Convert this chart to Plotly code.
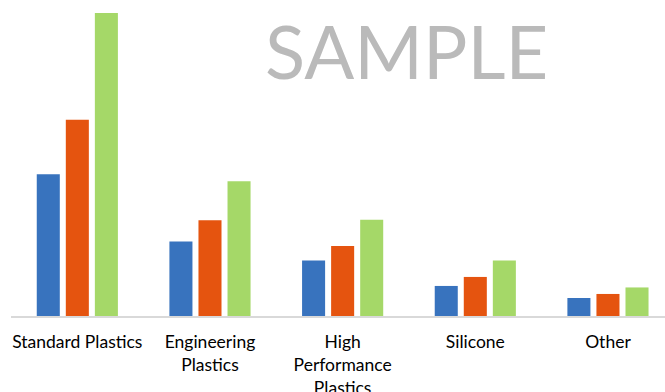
import plotly.graph_objects as go

categories = ["Standard Plastics", "Engineering<br>Plastics", "High<br>Performance<br>Plastics", "Silicone", "Other"]
series_names = ["Series 1", "Series 2", "Series 3"]
series_a = [141.5, 74.5, 55.5, 30.0, 18.0]
series_b = [196.0, 95.5, 70.0, 39.0, 22.0]
series_c = [302.5, 134.5, 96.0, 55.5, 28.5]
colors = ["#3873BE", "#E5540F", "#A5D868"]

fig = go.Figure()
for name, vals, col in zip(series_names, [series_a, series_b, series_c], colors):
    fig.add_trace(go.Bar(x=categories, y=vals, name=name, marker=dict(color=col, line=dict(width=0))))

fig.update_layout(
    width=665, height=392,
    margin=dict(l=11, r=0, t=5, b=76),
    plot_bgcolor="white", paper_bgcolor="white",
    barmode="group", bargap=0.343, bargroupgap=0.207,
    showlegend=False,
    font=dict(family="Lato", size=17, color="#000000"),
    xaxis=dict(
        range=[-0.5, 4.43], showline=True, linecolor="#d9d9d9", linewidth=2,
        ticks="", showgrid=False, fixedrange=True, ticklabelstandoff=9,
        automargin=False,
        tickfont=dict(family="Lato", size=17.5, color="#000000"),
    ),
    yaxis=dict(range=[0, 310.5], visible=False, showgrid=False, zeroline=False,
               automargin=False),
    annotations=[dict(
        text="SAMPLE", xref="paper", yref="paper", x=0.604, y=0.855,
        xanchor="center", yanchor="middle", showarrow=False,
        font=dict(family="Lato", size=74, color="#bababa"),
    )],
)

fig.write_html("out.html")
